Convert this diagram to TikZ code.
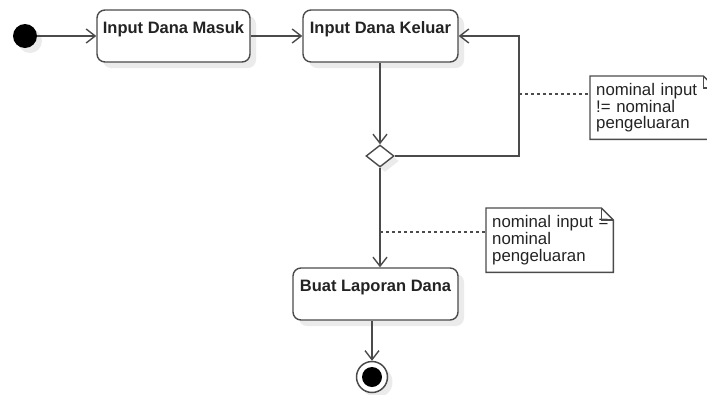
\documentclass[tikz,border=0pt]{standalone}
\usepackage{fontspec}
\setmainfont{Liberation Sans}
\usetikzlibrary{shapes.geometric,arrows.meta,shadows,calc}
\definecolor{linec}{RGB}{75,75,75}
\definecolor{textc}{RGB}{35,35,35}
\newcommand{\notefold}[2]{
	\draw[notebox] (#1.north west) -- ($(#1.north east)+(-#2,0)$) -- ($(#1.north east)+(0,#2)$) -- (#1.south east) -- (#1.south west) -- cycle;
	\draw[notebox] ($(#1.north east)+(-#2,0)$) -- ($(#1.north east)+(-#2,#2)$) -- ($(#1.north east)+(0,#2)$);
}

\begin{document}
\begin{tikzpicture}[x=1pt,y=-1pt,
	act/.style={draw=linec, fill=white, rounded corners=8pt, line width=1.4pt, minimum height=52pt, inner ysep=0pt, text height=23pt, text depth=29pt, text=textc, font=\fontsize{16.5}{18}\selectfont\bfseries, general shadow={fill=black!8, shadow xshift=6pt, shadow yshift=-6pt}},
	flow/.style={draw=linec, line width=1.4pt, -{Straight Barb[length=9pt,width=14pt,line width=1.4pt]}},
	hint/.style={draw=linec, line width=1.4pt, dash pattern=on 3pt off 3pt},
	notebox/.style={draw=linec, line width=1.4pt},
	notetext/.style={anchor=north west, minimum height=63pt, inner xsep=6pt, inner ysep=0pt, align=left, text=textc, font=\fontsize{16.8}{16.6}\selectfont},
	decide/.style={diamond, draw=linec, fill=white, line width=1.4pt, minimum width=28pt, minimum height=22pt, inner sep=0pt, general shadow={fill=black!8, shadow xshift=5pt, shadow yshift=-5pt}}]
	\useasboundingbox (0,0) rectangle (707,394);

	\node[circle, fill=black, minimum size=24pt, inner sep=0pt, general shadow={fill=black!8, shadow xshift=5pt, shadow yshift=-5pt}] (start) at (25,36) {};
	\node[act, minimum width=153pt] (masuk) at (173.5,36) {Input Dana Masuk};
	\node[act, minimum width=155pt] (keluar) at (380.5,36) {Input Dana Keluar};
	\node[decide] (dec) at (380,156) {};
	\node[act, minimum width=165pt] (laporan) at (375.5,294) {Buat Laporan Dana};
	\node[circle, draw=linec, fill=white, line width=1.5pt, minimum size=31pt, inner sep=0pt, general shadow={fill=black!8, shadow xshift=5pt, shadow yshift=-5pt}] (end) at (372,377) {};
	\node[circle, fill=black, minimum size=20pt, inner sep=0pt] (endin) at (end) {};

	\node[notetext, text width=113pt] (nb) at (590,76) {nominal input\\!= nominal\\pengeluaran};
	\node[notetext, text width=115pt, minimum height=64pt] (na) at (486,208) {nominal input\rlap{ =}\\nominal\\pengeluaran};
	\notefold{nb}{12}
	\notefold{na}{12}

	\coordinate (loop) at (519,94);
	\coordinate (hit) at (380,232);

	\draw[flow] (start) -- (masuk);
	\draw[flow] (masuk) -- (keluar);
	\draw[flow] (dec |- keluar.south) -- (dec);
	\draw[flow] (dec.east) -| (loop) |- (keluar.east);
	\draw[flow] (dec.south) -- (dec.south |- laporan.north);
	\draw[flow] (end.north |- laporan.south) -- (end.north);
	\draw[hint] (loop) -- (loop -| nb.west);
	\draw[hint] (hit) -- (hit -| na.west);

\end{tikzpicture}
\end{document}
